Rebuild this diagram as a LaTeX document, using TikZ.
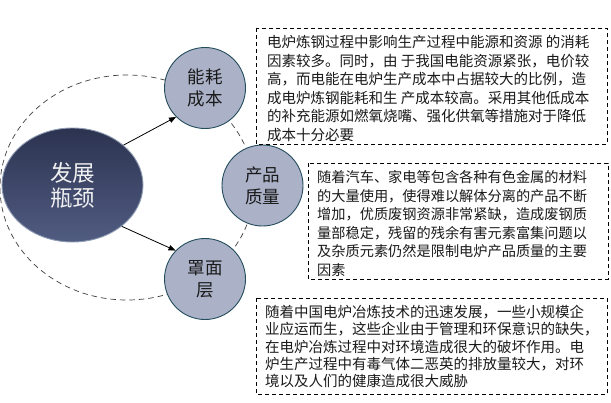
\documentclass[tikz,border=0pt]{standalone}
\usepackage{fontspec}
\newfontfamily\cjk{Noto Sans CJK SC}
\usetikzlibrary{shapes.geometric,arrows.meta}
\definecolor{circfill}{HTML}{ABB2C8}
\definecolor{circedge}{HTML}{234C5C}
\definecolor{ellTop}{HTML}{2C3350}
\definecolor{ellBot}{HTML}{515C82}
\definecolor{ellEdge}{HTML}{8E9CB2}
\definecolor{txt}{HTML}{1A1A1A}
\tikzset{
  smallcirc/.style={circle, draw=circedge, line width=0.9pt, fill=circfill,
    minimum size=81pt, inner sep=0pt, align=center, text=txt,
    font=\cjk\fontsize{17.5}{22}\selectfont},
  bigell/.style={ellipse, draw=ellEdge, line width=0.9pt, top color=ellTop, bottom color=ellBot,
    minimum width=141pt, minimum height=114pt, inner sep=0pt, align=center,
    text=white!94!black, font=\cjk\fontsize{22.5}{25}\selectfont},
  dbox/.style={draw=black, line width=0.8pt, dash pattern=on 4pt off 3pt},
  outerdash/.style={draw=black!75, line width=0.7pt, dash pattern=on 5.5pt off 4pt},
  linetxt/.style={anchor=base west, inner sep=0pt, text=txt, font=\cjk\fontsize{14.5}{18}\selectfont},
  linetxtb/.style={linetxt, font=\cjk\fontsize{14.2}{18}\selectfont},
  conn/.style={draw=black, line width=0.8pt, -{Triangle[length=7pt,width=5.5pt]}}
}
\begin{document}
\begin{tikzpicture}[x=1pt,y=-1pt]
\useasboundingbox (0,0) rectangle (611,402);
\fill[white] (0,0) rectangle (611,402);
% dashed outer ellipse
\draw[outerdash] (127,187.5) ellipse [x radius=127, y radius=112.5];
% main nodes
\node[bigell] (dev) at (72.5,185) {发展\\瓶颈};
\node[smallcirc] (c1) at (205,88) {能耗\\成本};
\node[smallcirc] (c2) at (262.5,185.5) {产品\\质量};
\node[smallcirc] (c3) at (205,279) {罩面\\层};
% connectors
\draw[conn] (dev.38) -- (c1.225);
\draw[conn] (dev.-40) -- (c3.136);
% text boxes
\draw[dbox] (256,28) rectangle (607,144);
\draw[dbox] (308,163) rectangle (608,279);
\draw[dbox] (256,298) rectangle (607,394);
% box 1 text
\foreach [count=\i] \t in {电炉炼钢过程中影响生产过程中能源和资源 的消耗,
  因素较多。同时，由 于我国电能资源紧张，电价较,
  高，而电能在电炉生产成本中占据较大的比例，造,
  成电炉炼钢能耗和生 产成本较高。采用其他低成本,
  的补充能源如燃氧烧嘴、强化供氧等措施对于降低,
  成本十分必要}
  \node[linetxt] (ta\i) at (267,{47.5+18.6*(\i-1)}) {\t};
% box 2 text
\foreach [count=\i] \t in {随着汽车、家电等包含各种有色金属的材料,
  的大量使用，使得难以解体分离的产品不断,
  增加，优质废钢资源非常紧缺，造成废钢质,
  量部稳定，残留的残余有害元素富集问题以,
  及杂质元素仍然是限制电炉产品质量的主要,
  因素}
  \node[linetxtb] (tb\i) at (317,{182.5+18.6*(\i-1)}) {\t};
% box 3 text
\foreach [count=\i] \t in {随着中国电炉冶炼技术的迅速发展，一些小规模企,
  业应运而生，这些企业由于管理和环保意识的缺失，,
  在电炉冶炼过程中对环境造成很大的破坏作用。电,
  炉生产过程中有毒气体二恶英的排放量较大，对环,
  境以及人们的健康造成很大威胁}
  \node[linetxt] (tc\i) at (265,{317.5+17.3*(\i-1)}) {\t};
\end{tikzpicture}
\end{document}
